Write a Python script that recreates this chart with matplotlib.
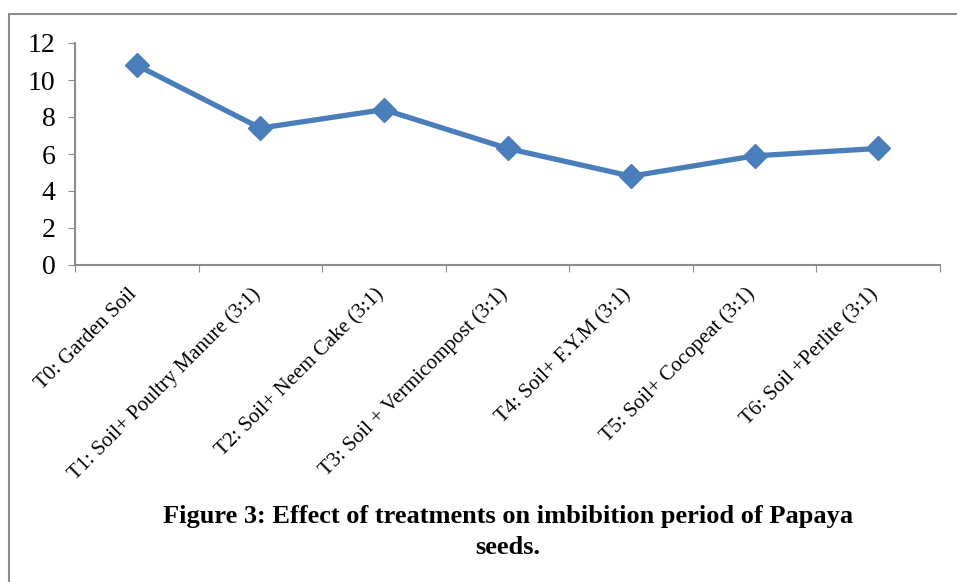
import matplotlib.pyplot as plt
from matplotlib.patches import Rectangle

treatments = [
    "T0: Garden Soil",
    "T1: Soil+ Poultry Manure (3:1)",
    "T2: Soil+ Neem Cake (3:1)",
    "T3: Soil + Vermicompost (3:1)",
    "T4: Soil+ F.Y.M (3:1)",
    "T5: Soil+ Cocopeat (3:1)",
    "T6: Soil +Perlite (3:1)",
]
imbibition = [10.8, 7.4, 8.4, 6.3, 4.8, 5.9, 6.3]
y_ticks = [0, 2, 4, 6, 8, 10, 12]

plt.rcParams['font.family'] = ['Liberation Serif', 'DejaVu Serif']

fig = plt.figure(figsize=(9.57, 5.82), dpi=100)
# outer chart-area border (runs off the right and bottom edges)
fig.patches.append(Rectangle((9 / 957, -0.1), 1.2, (582 - 14) / 582 + 0.1,
                             transform=fig.transFigure, fill=False,
                             edgecolor='#8c8c8c', linewidth=1.5))

ax = fig.add_axes([75 / 957, 1 - 265 / 582, (940 - 75) / 957, (265 - 43) / 582])
x = list(range(len(treatments)))
ax.plot(x, imbibition, color='#4a7ebb', linewidth=3.8, marker='D',
        markersize=12, markeredgecolor='#4a7ebb', solid_joinstyle='miter')

ax.set_xlim(-0.5, len(treatments) - 0.5)
ax.set_ylim(0, 12)
ax.set_yticks(y_ticks)
ax.tick_params(axis='y', labelsize=20, length=5, color='#8c8c8c', pad=9)

# category boundaries get the tick marks, labels sit on the categories
ax.set_xticks([i - 0.5 for i in range(len(treatments) + 1)])
ax.set_xticklabels([])
ax.tick_params(axis='x', length=5, color='#8c8c8c')
for i, lab in enumerate(treatments):
    ax.annotate(lab, xy=(i, 0), xycoords='data', xytext=(-2, -19),
                textcoords='offset points', rotation=45,
                rotation_mode='anchor', ha='right', va='center', fontsize=15)

for side in ['top', 'right']:
    ax.spines[side].set_visible(False)
for side in ['left', 'bottom']:
    ax.spines[side].set_color('#8c8c8c')
    ax.spines[side].set_linewidth(1.5)

fig.text(508 / 957, 1 - 517 / 582, "Figure 3: Effect of treatments on imbibition period of Papaya",
         ha='center', va='center', fontsize=19, fontweight='bold')
fig.text(508 / 957, 1 - 548 / 582, "seeds.",
         ha='center', va='center', fontsize=19, fontweight='bold')

fig.savefig('out.png', dpi=100)
